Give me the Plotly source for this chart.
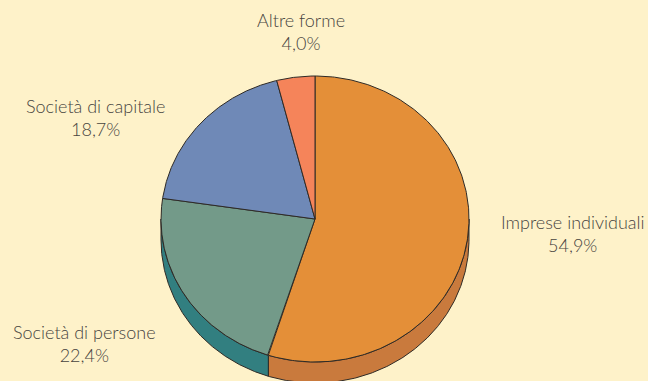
import numpy as np
import plotly.graph_objects as go

# ---- data ----
categories = ["Imprese individuali", "Società di persone", "Società di capitale", "Altre forme"]
shares = [54.9, 22.4, 18.7, 4.0]
value_labels = ["54,9%", "22,4%", "18,7%", "4,0%"]

# ---- styles ----
top_colors = ["#E48F38", "#739A89", "#6F89B7", "#F5845A"]
side_colors = ["#C97A3D", "#327F80", "#5A73A0", "#D9704A"]
bg = "#FEF2C9"
edge = "#2E2A26"
text_color = "#47443F"

# ---- geometry (pixel space) ----
W, H = 648, 381
cx, cy, rx, ry, depth = 315, 219, 154, 143, 21
label_pos = [(573, 233), (84, 343), (95, 117), (301, 31)]


def ell(t_deg, dy=0.0):
    t = np.radians(t_deg)
    return cx + rx * np.cos(t), cy - ry * np.sin(t) + dy


fig = go.Figure()

total = sum(shares)
start = 90.0
bounds = []
for v in shares:
    end = start - 360.0 * v / total
    bounds.append((start, end))
    start = end

# side (depth) faces: visible for angles in lower half (-180..0)
for (a0, a1), col in zip(bounds, side_colors):
    hi = min(a0, 0.0)
    lo = max(a1, -180.0)
    if hi <= lo:
        continue
    ts = np.linspace(hi, lo, 200)
    xt, yt = ell(ts)
    xb, yb = ell(ts[::-1], depth)
    xs = np.concatenate([xt, xb, xt[:1]])
    ys = np.concatenate([yt, yb, yt[:1]])
    fig.add_trace(go.Scatter(x=xs, y=ys, mode="lines", fill="toself", fillcolor=col,
                             line=dict(color=edge, width=1), hoverinfo="skip", showlegend=False))

# top faces
for (a0, a1), col, name in zip(bounds, top_colors, categories):
    ts = np.linspace(a0, a1, 300)
    xa, ya = ell(ts)
    xs = np.concatenate([[cx], xa, [cx]])
    ys = np.concatenate([[cy], ya, [cy]])
    fig.add_trace(go.Scatter(x=xs, y=ys, mode="lines", fill="toself", fillcolor=col,
                             line=dict(color=edge, width=1), name=name,
                             hoverinfo="name", showlegend=False))

for name, lab, (lx, ly) in zip(categories, value_labels, label_pos):
    fig.add_annotation(x=lx, y=ly, xref="x", yref="y", text=f"{name}<br>{lab}",
                       showarrow=False, align="center",
                       font=dict(family="Lato", size=18, color=text_color, weight=300))

fig.update_layout(
    width=W, height=H, margin=dict(l=0, r=0, t=0, b=0),
    paper_bgcolor=bg, plot_bgcolor=bg,
    xaxis=dict(range=[0, W], visible=False, fixedrange=True),
    yaxis=dict(range=[H, 0], visible=False, fixedrange=True),
    showlegend=False,
)

fig.write_html("out.html")
